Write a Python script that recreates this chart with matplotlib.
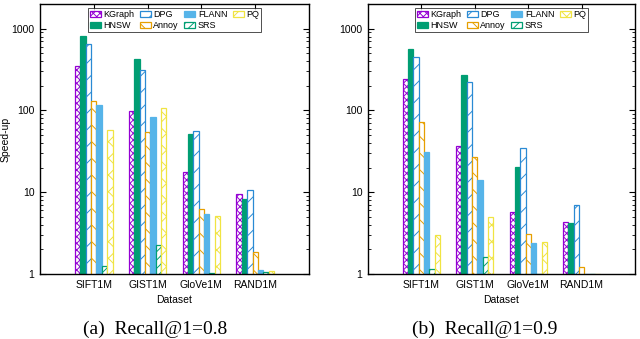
import matplotlib.pyplot as plt
import numpy as np

datasets = ['SIFT1M', 'GIST1M', 'GloVe1M', 'RAND1M']
methods = ['KGraph', 'HNSW', 'DPG', 'Annoy', 'FLANN', 'SRS', 'PQ']

# speed-up at Recall@1=0.8, one list per method (SIFT1M, GIST1M, GloVe1M, RAND1M)
kgraph_08 = [353, 98, 17.6, 9.4]
hnsw_08 = [805, 430, 52, 8.2]
dpg_08 = [643, 310, 56, 10.6]
annoy_08 = [130, 54, 6.3, 1.84]
flann_08 = [115, 82, 5.4, 1.12]
srs_08 = [1.25, 2.26, 1.02, 1.07]
pq_08 = [58, 107, 5.1, 1.1]

# speed-up at Recall@1=0.9
kgraph_09 = [245, 37, 5.77, 4.36]
hnsw_09 = [566, 274, 20.1, 4.2]
dpg_09 = [453, 221, 34.5, 7.0]
annoy_09 = [73, 26.6, 3.12, 1.23]
flann_09 = [30.6, 14.3, 2.36, 1.0]
srs_09 = [1.14, 1.6, 1.0, 1.0]
pq_09 = [3.03, 4.97, 2.47, 1.0]

panels = [
    ([kgraph_08, hnsw_08, dpg_08, annoy_08, flann_08, srs_08, pq_08], '(a)  Recall@1=0.8'),
    ([kgraph_09, hnsw_09, dpg_09, annoy_09, flann_09, srs_09, pq_09], '(b)  Recall@1=0.9'),
]

# (facecolor, edgecolor, hatch)
styles = [
    ('white', '#9400D3', 'xxxxx'),
    ('#009E73', '#009E73', None),
    ('white', '#2a8ad4', '//'),
    ('white', '#E69F00', '\\\\'),
    ('#56B4E9', '#56B4E9', None),
    ('white', '#009E73', '////'),
    ('white', '#F0E442', 'xx'),
]

plt.rcParams['font.family'] = ['Liberation Sans', 'DejaVu Sans']
plt.rcParams['hatch.linewidth'] = 0.7

fig = plt.figure(figsize=(6.4, 3.39), dpi=100)
W, H = 640.0, 339.0
rects = [(40, 65, 269, 270), (368, 65, 267, 270)]
caption_x = [155, 485]

x = np.arange(1, len(datasets) + 1)
width = 0.1

for p, ((series, caption), (l, b, w, h)) in enumerate(zip(panels, rects)):
    ax = fig.add_axes([l / W, b / H, w / W, h / H])
    for i, vals in enumerate(series):
        fc, ec, hatch = styles[i]
        ax.bar(x + (i - 3) * width, vals, width, bottom=0, color=fc, edgecolor=ec,
               hatch=hatch, linewidth=0.9, label=methods[i])
    ax.set_yscale('log')
    ax.set_ylim(1, 2000)
    ax.set_xlim(0, 5)
    ax.set_xticks(x)
    ax.set_xticklabels(datasets, fontsize=7.5)
    ax.set_yticks([1, 10, 100, 1000])
    ax.set_yticklabels(['1', '10', '100', '1000'], fontsize=7.5)
    ax.tick_params(which='major', direction='in', length=4, width=0.8,
                   top=True, right=True, bottom=False, pad=4)
    ax.tick_params(which='minor', direction='in', length=2, width=0.6,
                   right=True, left=True)
    ax.tick_params(axis='x', which='minor', bottom=False, top=False)
    for s in ax.spines.values():
        s.set_linewidth(1.0)
    ax.set_xlabel('Dataset', fontsize=7.5, labelpad=4)
    if p == 0:
        ax.set_ylabel('Speed-up', fontsize=7.5)
        ax.yaxis.set_label_coords(-29.0 / w, 0.5)
    leg = ax.legend(ncol=4, loc='upper center', fontsize=6.5, frameon=True,
                    fancybox=False, edgecolor='black', handlelength=1.2,
                    handleheight=0.7, handletextpad=0.3, columnspacing=0.6,
                    labelspacing=0.25, borderpad=0.25, borderaxespad=0.4)
    leg.get_frame().set_linewidth(0.6)
    fig.text(caption_x[p] / W, 5.0 / H, caption, ha='center', va='baseline',
             fontsize=14, family='Liberation Serif')

fig.savefig('out.png', dpi=100)
